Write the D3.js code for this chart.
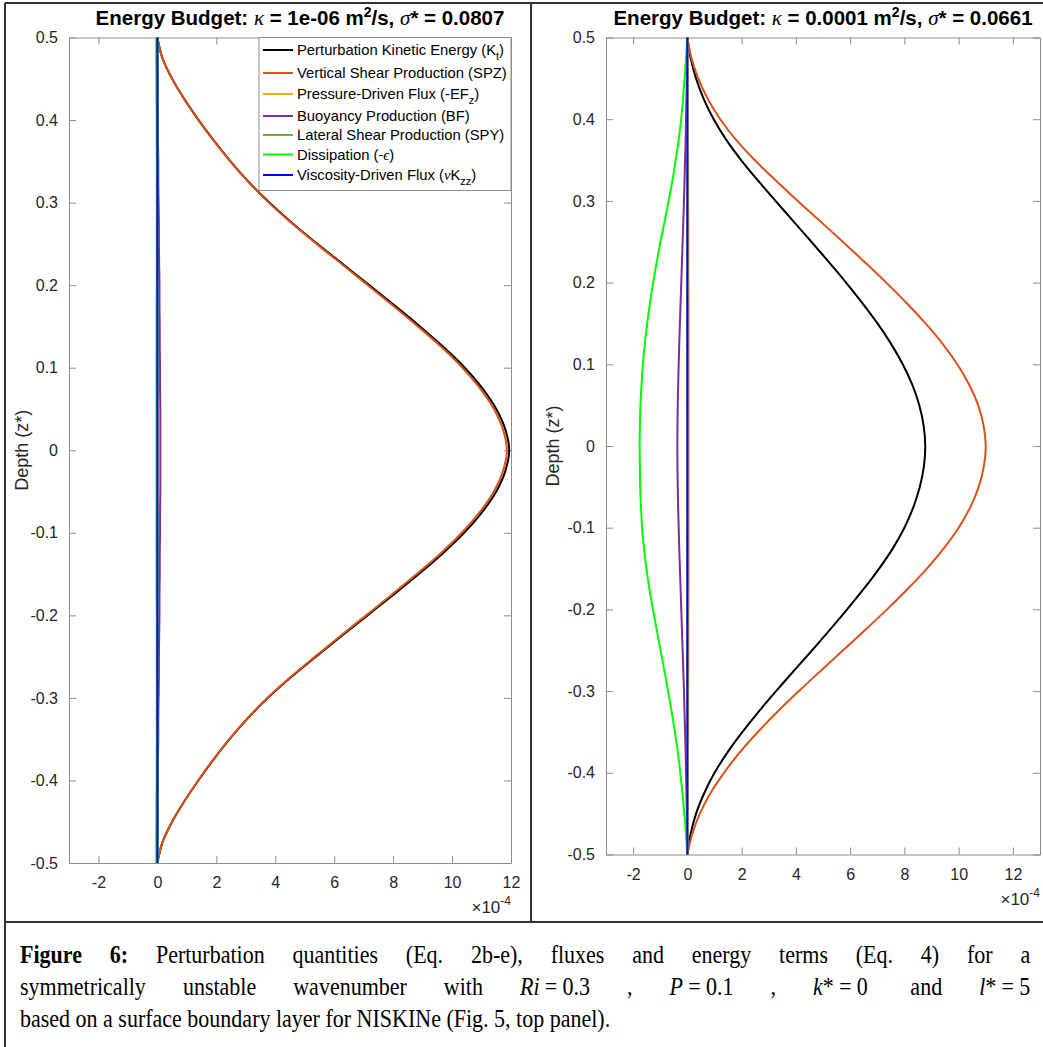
<!DOCTYPE html>
<html>
<head>
<meta charset="utf-8">
<script src="https://cdn.jsdelivr.net/npm/d3@7"></script>
<style>
  body { margin: 0; background: #fff; }
  #fig { position: relative; width: 1043px; height: 1047px; overflow: hidden; }
  .caption { position: absolute; left: 20px; top: 939px; width: 1148px;
    transform: scaleX(0.88); transform-origin: 0 0;
    font-family: "Liberation Serif", "Times New Roman", serif; font-size: 25px; line-height: 32px; color: #000; }
  .caption div { text-align: justify; text-align-last: justify; white-space: nowrap; }
  .caption div.last { text-align-last: left; }
  .caption .mb { display: inline-block; }
  .caption .eq { display: inline-block; padding: 0 6px; }
</style>
</head>
<body>
<div id="fig"></div>
<script>
// depth levels (z*) shared by all profiles
const zLevels = [0.5,0.475,0.45,0.425,0.4,0.375,0.35,0.325,0.3,0.275,0.25,0.225,0.2,0.175,0.15,0.125,0.1,0.075,0.05,0.025,0,
  -0.025,-0.05,-0.075,-0.1,-0.125,-0.15,-0.175,-0.2,-0.225,-0.25,-0.275,-0.3,-0.325,-0.35,-0.375,-0.4,-0.425,-0.45,-0.475,-0.5];

// left panel, kappa = 1e-06 (values x 1e-4)
const leftKE  = [0,0.17,0.5,0.92,1.4,1.92,2.48,3.1,3.8,4.58,5.43,6.31,7.19,8.06,8.91,9.71,10.43,11.03,11.5,11.81,11.94,
  11.81,11.5,11.02,10.41,9.68,8.87,8.01,7.13,6.25,5.38,4.53,3.75,3.06,2.45,1.9,1.39,0.92,0.5,0.17,0];
const leftSPZ = [0,0.17,0.5,0.92,1.39,1.91,2.47,3.09,3.78,4.56,5.4,6.27,7.14,8.0,8.84,9.64,10.35,10.95,11.42,11.73,11.86,
  11.73,11.42,10.94,10.33,9.61,8.8,7.95,7.08,6.21,5.35,4.51,3.73,3.05,2.44,1.89,1.38,0.92,0.5,0.17,0];
const leftEFz = [-0.05,-0.05,-0.04,-0.04,-0.03,-0.03,-0.02,-0.02,-0.01,-0.01,0,0,0,0,0.01,0.01,0.01,0.01,0.01,0.01,0.01,
  0.01,0.01,0.01,0.01,0.01,0.01,0,0,0,0,-0.01,-0.01,-0.02,-0.02,-0.03,-0.03,-0.04,-0.04,-0.05,-0.05];
const leftBF  = [0,0,0.01,0.01,0.02,0.02,0.03,0.03,0.04,0.05,0.05,0.06,0.07,0.07,0.08,0.08,0.09,0.09,0.1,0.1,0.1,
  0.1,0.1,0.09,0.09,0.08,0.08,0.07,0.07,0.06,0.05,0.05,0.04,0.03,0.03,0.02,0.02,0.01,0.01,0,0];
const leftSPY = [0,0,0,0,0,0,0,0,0,0,0,0,0,0,0,0,0,0,0,0,0,0,0,0,0,0,0,0,0,0,0,0,0,0,0,0,0,0,0,0,0];
const leftEps = [0,0,-0.01,-0.01,-0.01,-0.01,-0.01,-0.02,-0.02,-0.02,-0.02,-0.02,-0.02,-0.03,-0.03,-0.03,-0.03,-0.03,-0.03,-0.03,-0.03,
  -0.03,-0.03,-0.03,-0.03,-0.03,-0.03,-0.03,-0.02,-0.02,-0.02,-0.02,-0.02,-0.02,-0.01,-0.01,-0.01,-0.01,-0.01,0,0];
const leftVisc = [0,0,0,0,0,0,0,0,0,0,0,0,0,0,0,0,0,0,0,0,0,0,0,0,0,0,0,0,0,0,0,0,0,0,0,0,0,0,0,0,0];

// right panel, kappa = 0.0001 (values x 1e-4)
const rightKE  = [0,0.12,0.32,0.6,0.97,1.43,1.98,2.6,3.25,3.91,4.57,5.22,5.85,6.45,7.01,7.51,7.94,8.29,8.55,8.71,8.77,
  8.72,8.57,8.33,8.0,7.58,7.07,6.5,5.89,5.25,4.6,3.93,3.27,2.63,2.03,1.48,1.0,0.62,0.32,0.12,0];
const rightSPZ = [0,0.15,0.4,0.75,1.21,1.79,2.48,3.26,4.07,4.9,5.73,6.54,7.33,8.08,8.78,9.41,9.95,10.39,10.72,10.92,11.0,
  10.93,10.74,10.43,10.0,9.46,8.83,8.12,7.36,6.56,5.74,4.92,4.11,3.33,2.6,1.93,1.35,0.85,0.46,0.18,0];
const rightEFz = [0,0.01,0.01,0.02,0.02,0.02,0.03,0.03,0.03,0.04,0.04,0.04,0.04,0.05,0.05,0.05,0.05,0.05,0.05,0.05,0.05,
  0.05,0.05,0.05,0.05,0.05,0.05,0.05,0.04,0.04,0.04,0.04,0.03,0.03,0.03,0.02,0.02,0.02,0.01,0.01,0];
const rightBF  = [0,-0.01,-0.02,-0.035,-0.05,-0.065,-0.085,-0.105,-0.125,-0.15,-0.175,-0.2,-0.225,-0.25,-0.275,-0.3,-0.32,-0.34,-0.355,-0.365,-0.37,
  -0.365,-0.355,-0.34,-0.32,-0.3,-0.275,-0.25,-0.225,-0.2,-0.175,-0.15,-0.125,-0.105,-0.085,-0.065,-0.05,-0.035,-0.02,-0.01,0];
const rightSPY = [0,0,0,0,0,0,0,0,0,0,0,0,0,0,0,0,0,0,0,0,0,0,0,0,0,0,0,0,0,0,0,0,0,0,0,0,0,0,0,0,0];
const rightEps = [0,-0.05,-0.1,-0.16,-0.23,-0.32,-0.43,-0.55,-0.69,-0.84,-0.99,-1.13,-1.26,-1.38,-1.48,-1.57,-1.64,-1.69,-1.73,-1.75,-1.76,
  -1.75,-1.74,-1.71,-1.67,-1.6,-1.51,-1.4,-1.27,-1.13,-0.99,-0.85,-0.71,-0.58,-0.46,-0.35,-0.26,-0.18,-0.11,-0.05,0];
const rightVisc = [0,0,0,0,0,0,0,0,0,0,0,0,0,0,0,0,0,0,0,0,0,0,0,0,0,0,0,0,0,0,0,0,0,0,0,0,0,0,0,0,0];

const yTicks = [-0.5,-0.4,-0.3,-0.2,-0.1,0,0.1,0.2,0.3,0.4,0.5];
const xTicks = [-2,0,2,4,6,8,10,12];
const colors = ["#000000","#D95319","#EDB120","#7E2F8E","#77AC30","#00FF00","#0000FF"];

const fig = d3.select("#fig");
const svg = fig.append("svg").attr("width", 1043).attr("height", 1047)
  .style("position", "absolute").style("left", 0).style("top", 0);

const FONT = "'Liberation Sans', Arial, Helvetica, sans-serif";
const axisGray = "#8c8c8c";
const textGray = "#262626";

function drawPanel(p) {
  const x = d3.scaleLinear().domain(p.xDomain).range([p.x0, p.x1]);
  const y = d3.scaleLinear().domain([-0.5, 0.5]).range([p.y1, p.y0]);
  const g = svg.append("g");

  const styleAxis = sel => {
    sel.attr("font-family", FONT).attr("font-size", 16);
    sel.selectAll(".domain").attr("stroke", axisGray);
    sel.selectAll(".tick line").attr("stroke", axisGray);
    sel.selectAll(".tick text").attr("fill", textGray);
  };

  g.append("g").attr("transform", `translate(0,${p.y1})`)
    .call(d3.axisBottom(x).tickValues(xTicks).tickSize(-7).tickSizeOuter(0).tickPadding(14).tickFormat(d => String(d)))
    .call(styleAxis);
  g.append("g").attr("transform", `translate(0,${p.y0})`)
    .call(d3.axisTop(x).tickValues(xTicks).tickSize(-7).tickSizeOuter(0).tickFormat(""))
    .call(styleAxis);
  g.append("g").attr("transform", `translate(${p.x0},0)`)
    .call(d3.axisLeft(y).tickValues(yTicks).tickSize(-7).tickSizeOuter(0).tickPadding(11)
      .tickFormat(d => d === 0 ? "0" : String(+d.toFixed(1))))
    .call(styleAxis);
  g.append("g").attr("transform", `translate(${p.x1},0)`)
    .call(d3.axisRight(y).tickValues(yTicks).tickSize(-7).tickSizeOuter(0).tickFormat(""))
    .call(styleAxis);

  // profiles
  const line = d3.line().x(d => x(d[0])).y(d => y(d[1])).curve(d3.curveCatmullRom.alpha(0.5));
  p.series.forEach((vals, i) => {
    g.append("path")
      .datum(vals.map((v, k) => [v, zLevels[k]]))
      .attr("fill", "none")
      .attr("stroke", colors[i])
      .attr("stroke-width", 2)
      .attr("d", line);
  });

  // title
  const t = g.append("text").attr("x", p.titleX).attr("y", 25)
    .attr("text-anchor", "middle").attr("font-family", FONT).attr("font-size", 20.5)
    .attr("font-weight", "bold").attr("fill", "#000");
  t.append("tspan").text("Energy Budget: ");
  t.append("tspan").attr("font-family", "'Liberation Serif', serif").attr("font-style", "italic")
    .attr("font-weight", "normal").attr("font-size", 21).text("κ");
  t.append("tspan").text(` = ${p.kappa} m`);
  t.append("tspan").attr("dy", -8).attr("font-size", 14).text("2");
  t.append("tspan").attr("dy", 8).text("/s, ");
  t.append("tspan").attr("font-family", "'Liberation Serif', serif").attr("font-style", "italic")
    .attr("font-weight", "normal").attr("font-size", 21).text("σ");
  t.append("tspan").text(`* = ${p.sigma}`);

  // y label
  const cy = (p.y0 + p.y1) / 2;
  g.append("text").attr("transform", `translate(${p.x0 - p.labelOff},${cy}) rotate(-90)`)
    .attr("text-anchor", "middle").attr("dominant-baseline", "central")
    .attr("font-family", FONT).attr("font-size", 18).attr("fill", textGray).text("Depth (z*)");

  // exponent
  const ex = g.append("text").attr("x", p.x1).attr("y", p.y1 + 50)
    .attr("text-anchor", "end").attr("font-family", FONT).attr("font-size", 17).attr("fill", textGray);
  ex.append("tspan").text("×10");
  ex.append("tspan").attr("dy", -8).attr("font-size", 12).text("-4");

  return { x, y, g };
}

drawPanel({ x0: 69, x1: 511, y0: 37.5, y1: 863, xDomain: [-3, 12], kappa: "1e-06", sigma: "0.0807",
  titleX: 300, labelOff: 47,
  series: [leftKE, leftSPZ, leftEFz, leftBF, leftSPY, leftEps, leftVisc] });
drawPanel({ x0: 606, x1: 1040, y0: 37.5, y1: 854.5, xDomain: [-3, 13], kappa: "0.0001", sigma: "0.0661",
  titleX: 823, labelOff: 53,
  series: [rightKE, rightSPZ, rightEFz, rightBF, rightSPY, rightEps, rightVisc] });

// legend (left panel only)
const legendRows = [
  { main: "Perturbation Kinetic Energy (K", sub: "t", tail: ")", cy: 50 },
  { main: "Vertical Shear Production (SPZ)", cy: 73 },
  { main: "Pressure-Driven Flux (-EF", sub: "z", tail: ")", cy: 94 },
  { main: "Buoyancy Production (BF)", cy: 116 },
  { main: "Lateral Shear Production (SPY)", cy: 135 },
  { main: "Dissipation (-", greek: "ϵ", tail: ")", cy: 154.5 },
  { main: "Viscosity-Driven Flux (", greek: "ν", mid: "K", sub: "zz", tail: ")", cy: 175 }
];
const lg = svg.append("g");
lg.append("rect").attr("x", 259).attr("y", 37.5).attr("width", 252).attr("height", 153)
  .attr("fill", "#fff").attr("stroke", axisGray).attr("stroke-width", 1);
legendRows.forEach((r, i) => {
  lg.append("line").attr("x1", 263).attr("x2", 293).attr("y1", r.cy).attr("y2", r.cy)
    .attr("stroke", colors[i]).attr("stroke-width", 2);
  const t = lg.append("text").attr("x", 297).attr("y", r.cy + 5)
    .attr("font-family", FONT).attr("font-size", 14.8).attr("fill", "#000");
  t.append("tspan").text(r.main);
  if (r.greek) t.append("tspan").attr("font-family", "'Liberation Serif', serif").attr("font-style", "italic").text(r.greek);
  if (r.mid) t.append("tspan").text(r.mid);
  if (r.sub) {
    t.append("tspan").attr("dy", 5).attr("font-size", 11).text(r.sub);
    t.append("tspan").attr("dy", -5).text(r.tail);
  } else if (r.tail) {
    t.append("tspan").text(r.tail);
  }
});

// frame lines
const frame = [
  [5, 3, 1043, 3], [5, 3, 5, 1047], [531, 3, 531, 922], [5, 922, 1043, 922]
];
svg.append("g").selectAll("line").data(frame).join("line")
  .attr("x1", d => d[0]).attr("y1", d => d[1]).attr("x2", d => d[2]).attr("y2", d => d[3])
  .attr("stroke", "#333").attr("stroke-width", 2);

// caption
const cap = fig.append("div").attr("class", "caption");
cap.append("div").html("<b>Figure 6:</b> Perturbation quantities (Eq. 2b-e), fluxes and energy terms (Eq. 4) for a");
cap.append("div").html("symmetrically unstable wavenumber with <span class='mb'><i>Ri</i><span class='eq'>=</span>0.3</span> , "
  + "<span class='mb'><i>P</i><span class='eq'>=</span>0.1</span> , <span class='mb'><i>k</i>*<span class='eq'>=</span>0</span> "
  + "<span class='mb'>&nbsp;and</span> <span class='mb'><i>l</i>*<span class='eq'>=</span>5</span>");
cap.append("div").attr("class", "last").html("based on a surface boundary layer for NISKINe (Fig. 5, top panel).");
</script>
</body>
</html>
